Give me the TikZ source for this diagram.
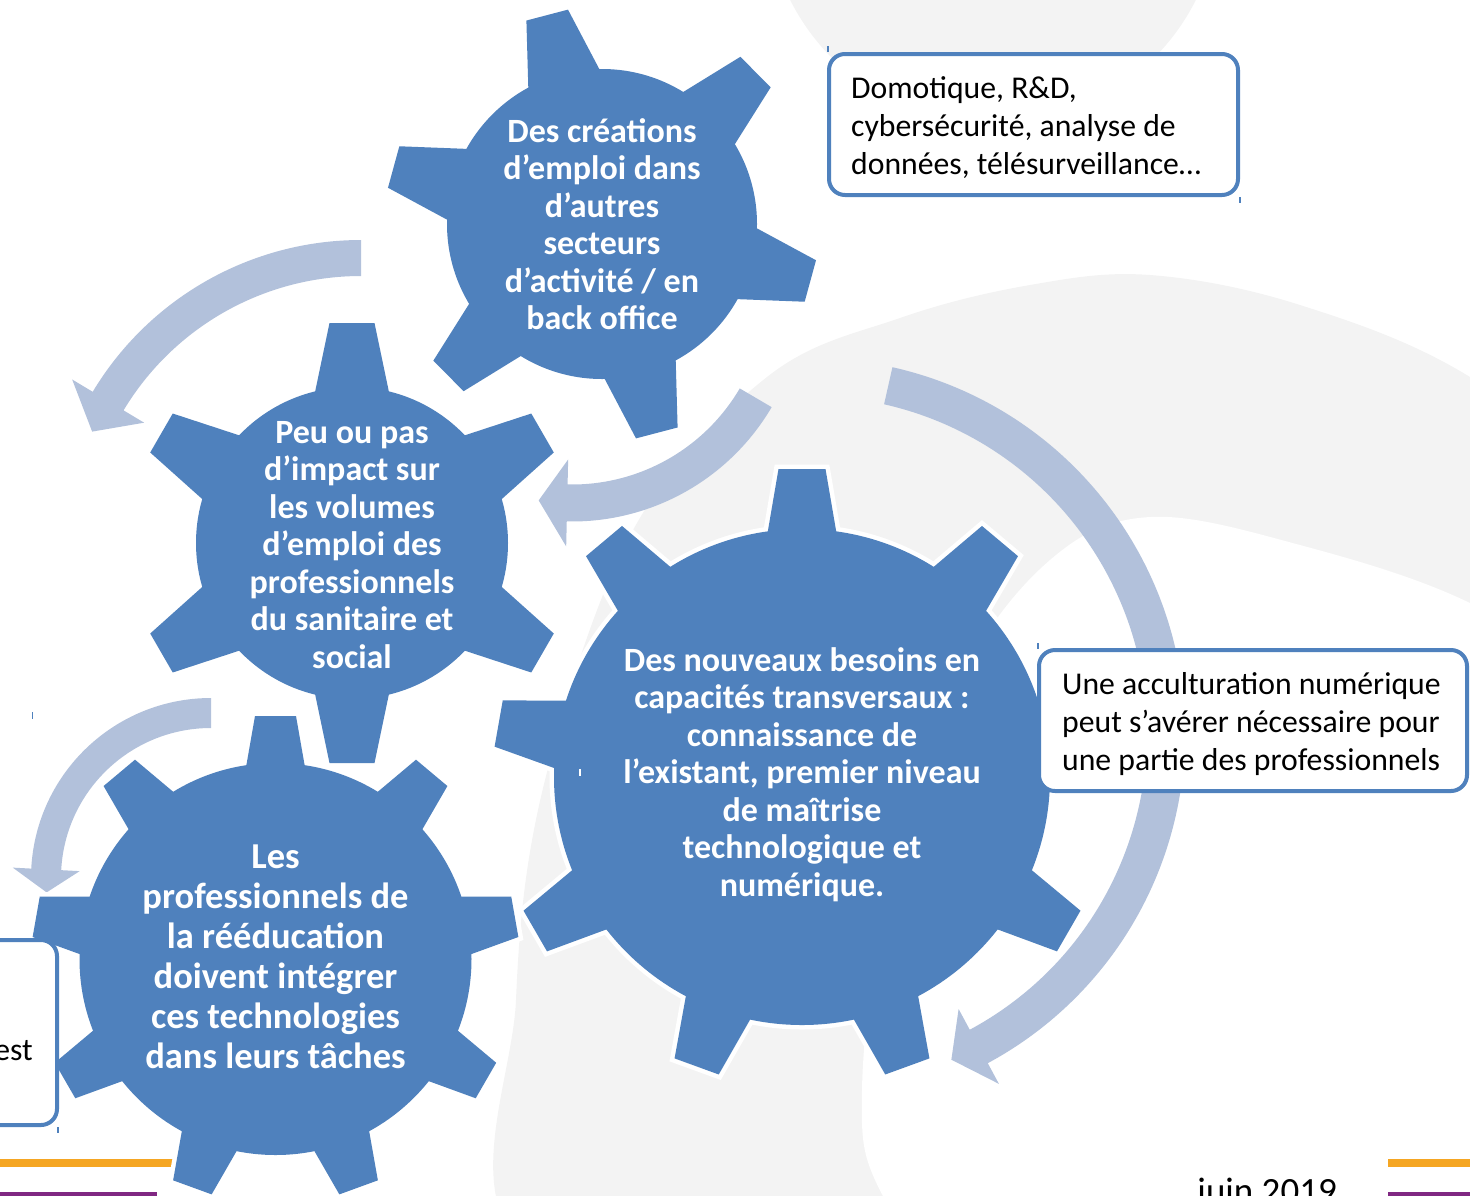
\documentclass[tikz,border=0pt]{standalone}
\usepackage{fontspec}
\setmainfont{Carlito}
\usetikzlibrary{calc}
\definecolor{gearblue}{RGB}{79,129,189}
\definecolor{arrowcol}{RGB}{178,193,219}
\definecolor{bggray}{RGB}{243,243,243}
\definecolor{lineorange}{RGB}{245,166,35}
\definecolor{linepurple}{RGB}{128,40,130}

% gear: cx cy rbody rtip wbase wtip nteeth startangle style
\newcommand\gearpath[9]{%
  \path[#9] (#1,#2) circle[radius=#3];
  \foreach \k in {1,...,#7}{%
    \pgfmathsetmacro\ga{#8+(\k-1)*360/#7}%
    \pgfmathsetmacro\gr{#3-10}%
    \path[#9] ($(#1,#2)+(\ga:\gr)+(\ga+90:#5)$) -- ($(#1,#2)+(\ga:#4)+(\ga+90:#6)$)
      -- ($(#1,#2)+(\ga:#4)+(\ga-90:#6)$) -- ($(#1,#2)+(\ga:\gr)+(\ga-90:#5)$) -- cycle;
  }%
}
\newcommand\fullgear[8]{%
  \gearpath{#1}{#2}{#3}{#4}{#5}{#6}{#7}{#8}{draw=white,line width=9pt,line join=miter}%
  \gearpath{#1}{#2}{#3}{#4}{#5}{#6}{#7}{#8}{fill=gearblue}%
}
% circular arrow: cx cy R width startangle headbaseangle headhalfwidth tipangle
\newcommand\circarrow[8]{%
  \pgfmathsetmacro\ro{#3+#4/2}\pgfmathsetmacro\ri{#3-#4/2}%
  \pgfmathsetmacro\ho{#3+#7}\pgfmathsetmacro\hi{#3-#7}%
  \fill[arrowcol] ($(#1,#2)+(#5:\ro)$) arc[start angle=#5,end angle=#6,radius=\ro]
    -- ($(#1,#2)+(#6:\ho)$) -- ($(#1,#2)+(#8:#3)$) -- ($(#1,#2)+(#6:\hi)$)
    -- ($(#1,#2)+(#6:\ri)$) arc[start angle=#6,end angle=#5,radius=\ri] -- cycle;
}

\tikzset{
  geartext/.style={text=white, align=center, inner sep=0pt,
    font=\bfseries\fontsize{34}{37.5}\selectfont},
  infobox/.style={draw=gearblue, line width=4pt, fill=white, rounded corners=16pt, inner sep=0pt},
  infotext/.style={align=left, inner sep=0pt, anchor=west, font=\fontsize{31.7}{38}\selectfont},
  tick/.style={line width=1.2pt},
}

\begin{document}
\begin{tikzpicture}[x=1pt,y=-1pt]
\useasboundingbox (0,0) rectangle (1470,1195);
\clip (0,0) rectangle (1470,1195);

% background shapes
\fill[bggray] (993,-102) circle[radius=227];
\fill[bggray] plot[smooth cycle, tension=0.6] coordinates {
  (1150,275) (1300,305) (1470,377) (1650,520) (1720,1000) (1600,1350)
  (900,1350) (525,1250) (516,1000) (545,780) (633,530) (767,377) (900,318) (1030,285)};
\fill[white] plot[smooth cycle, tension=0.6] coordinates {
  (1150,517) (1300,545) (1470,603) (1620,700) (1650,1100) (1400,1350)
  (1000,1350) (885,1200) (862,1090) (890,880) (960,680) (1050,560)};

% footer lines
\fill[lineorange] (0,1159) rectangle (200,1167);
\fill[lineorange] (1388,1159) rectangle (1470,1167);
\fill[linepurple] (0,1192) rectangle (157,1197);
\fill[linepurple] (1388,1192) rectangle (1470,1197);
\node[anchor=base west, inner sep=0pt, font=\fontsize{37}{40}\selectfont] (date) at (1197,1203) {juin 2019};

% circular arrows
\circarrow{361}{553}{295}{36}{-90}{-149}{42}{-155.7}
\circarrow{572}{290}{213}{37}{30.4}{91.3}{43.5}{99}
\circarrow{810}{733}{356}{38}{-77.3}{61.7}{42.5}{66.6}
\circarrow{211}{878}{165}{30}{-90}{-177}{33.5}{-185}

% gears
\fullgear{602}{224}{155}{216}{38}{21.5}{6}{-104.7}
\fullgear{352}{543}{156}{220}{38}{22.5}{6}{-90}
\fullgear{802}{777}{248}{308}{35.5}{23.5}{9}{-90}
\fullgear{275.5}{959}{196}{243}{30.5}{20.5}{9}{-90}

\node[geartext] (g1) at (602,224) {Des créations\\d’emploi dans\\d’autres\\secteurs\\d’activité / en\\back office};
\node[geartext] (g2) at (352,545) {Peu ou pas\\d’impact sur\\les volumes\\d’emploi des\\professionnels\\du sanitaire et\\social};
\node[geartext] (g3) at (802,774.5) {Des nouveaux besoins en\\capacités transversaux :\\connaissance de\\l’existant, premier niveau\\de maîtrise\\technologique et\\numérique.};
\node[geartext, font=\bfseries\fontsize{36.5}{40}\selectfont] (g4) at (275.5,957) {Les\\professionnels de\\la rééducation\\doivent intégrer\\ces technologies\\dans leurs tâches};

% small marks
\draw[tick, gearblue] (32.5,712) -- (32.5,719);
\draw[tick, white] (580,769) -- (580,776);

% boxes
\node[infobox, minimum width=409pt, minimum height=141pt] (b1) at (1033.5,124.5) {};
\node[infotext] (b1t) at (851,128) {Domotique, R\&D,\\cybersécurité, analyse de\\données, télésurveillance…};
\node[infobox, minimum width=428pt, minimum height=141pt] (b2) at (1253,720.5) {};
\node[infotext] (b2t) at (1062,724) {Une acculturation numérique\\peut s’avérer nécessaire pour\\une partie des professionnels};
\node[infobox, minimum width=257pt, minimum height=185pt] (b3) at (-71.5,1032.5) {};
\node[anchor=base east, inner sep=0pt, font=\fontsize{31.7}{38}\selectfont] (b3t) at (33,1060) {est};
\draw[tick, gearblue] (828,46) -- (828,52);
\draw[tick, gearblue] (1240,197) -- (1240,203);
\draw[tick, gearblue] (1038,643) -- (1038,649);
\draw[tick, gearblue] (58,1127) -- (58,1133);
\end{tikzpicture}
\end{document}
